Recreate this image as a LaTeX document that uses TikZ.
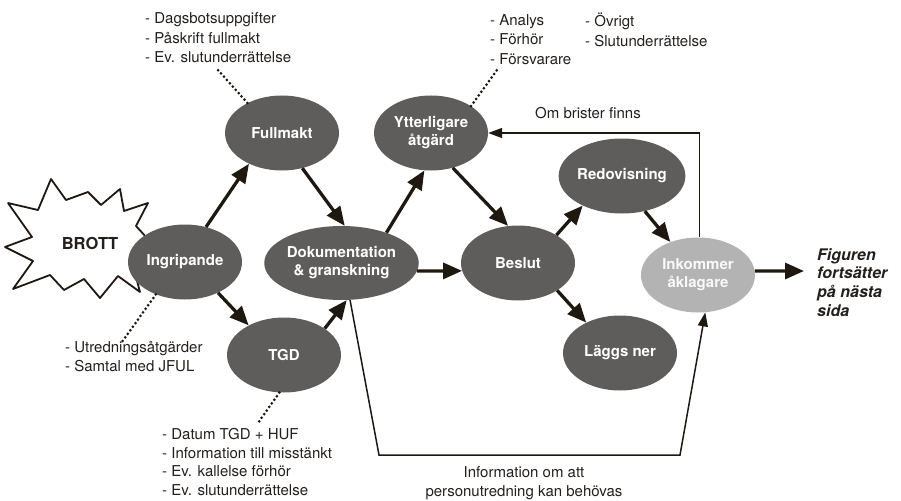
\documentclass[tikz,border=0pt]{standalone}
\usepackage{fontspec}
\setmainfont{TeX Gyre Heros}
\usetikzlibrary{shapes.geometric,arrows.meta}
\definecolor{nodefill}{HTML}{5E5D5B}
\definecolor{lightfill}{HTML}{B3B3B3}
\definecolor{linecol}{HTML}{1F1810}
\definecolor{txt}{HTML}{231F1C}
\begin{document}
\begin{tikzpicture}[x=1pt,y=-1pt,
  proc/.style={ellipse, fill=nodefill, minimum width=114pt, minimum height=75pt,
    inner sep=0pt, text=white, align=center,
    font=\bfseries\fontsize{15}{18}\selectfont},
  lightproc/.style={proc, fill=lightfill, text=white!92!lightfill},
  arr/.style={draw=linecol, line width=3.3pt, -{Triangle[length=19pt,width=16pt]}},
  thinarr/.style={draw=linecol, line width=1.5pt, -{Triangle[length=14pt,width=10pt]}},
  dotline/.style={draw=linecol, line width=3pt, line cap=round, dash pattern=on 0pt off 4.4pt},
  listtext/.style={anchor=north west, inner sep=0pt, align=left, text=txt},
  lbl/.style={inner sep=0pt, align=center, text=txt, font=\fontsize{15}{19}\selectfont}
]
\useasboundingbox (0,0) rectangle (901,500);

% BROTT starburst
\draw[linecol, line width=1.8pt, line join=round, fill=white]
  (51,179) -- (66,200) -- (88,192) -- (101,205) -- (120,189) -- (124,211)
  -- (148,203) -- (136,226) -- (158,250) -- (133,266) -- (140,292) -- (118,276)
  -- (100,298) -- (84,279) -- (64,290) -- (50,275) -- (13,289) -- (33,261)
  -- (5,247) -- (32,237) -- (8,203) -- (38,210) -- cycle;
\node[inner sep=0pt, text=txt, font=\bfseries\fontsize{16.5}{19}\selectfont] (brott) at (90,243) {BROTT};

% process nodes
\node[proc] (ing) at (185,262) {Ingripande};
\node[proc] (full) at (282,133) {Fullmakt};
\node[proc] (tgd) at (284,355) {TGD};
\node[proc, minimum width=153pt, minimum height=74pt] (dok) at (341.5,263) {Dokumentation\\\& granskning};
\node[proc] (ytt) at (431,133) {Ytterligare\\åtgärd};
\node[proc] (bes) at (518,263) {Beslut};
\node[proc] (red) at (622,176) {Redovisning};
\node[lightproc] (ink) at (698,275) {Inkommer\\åklagare};
\node[proc] (lag) at (620,353) {Läggs ner};

% thick arrows
\draw[arr] (ing.59) -- (full.-137);
\draw[arr] (full.-60) -- (dok.85);
\draw[arr] (ing.-43) -- (tgd.140);
\draw[arr] (tgd.33) -- (dok.-82);
\draw[arr] (dok.34) -- (ytt.-100);
\draw[arr] (ytt.-58) -- (bes.105);
\draw[arr] (dok.-6) -- (bes.-172);
\draw[arr] (bes.36) -- (red.-143);
\draw[arr] (bes.-35) -- (lag.138);
\draw[arr] (red.-57) -- (ink.130);
\coordinate (figtip) at (804,271);
\draw[arr] (ink.4) -- (figtip);

% continuation text
\node[anchor=north west, inner sep=0pt, align=left, text=txt,
  font=\bfseries\itshape\fontsize{16}{18.7}\selectfont] (fig) at (817,248)
  {Figuren\\fortsätter\\på nästa\\sida};

% thin feedback arrows
\draw[thinarr] (ink.88) |- (ytt.east);
\node[lbl] (brist) at (588,113) {Om brister finns};

\coordinate (c1) at (379,455);
\coordinate (c2) at (680,455);
\draw[thinarr] (dok.-77) -- (c1) -- (c2) -- (ink.-79);
\node[lbl] (info) at (524,483.5) {Information om att\\personutredning kan behövas};

% dotted leaders and lists
\coordinate (d1) at (218,70);
\draw[dotline] (full.139) -- (d1);
\node[listtext, font=\fontsize{15}{19.5}\selectfont] (l1) at (145,12.5)
  {- Dagsbotsuppgifter\\- Påskrift fullmakt\\- Ev. slutunderrättelse};

\coordinate (d2) at (122,342);
\draw[dotline] (ing.-132) -- (d2);
\node[listtext, font=\fontsize{15}{19}\selectfont] (l2) at (65,341.5)
  {- Utredningsåtgärder\\- Samtal med JFUL};

\coordinate (d3) at (258,423);
\draw[dotline] (tgd.-97) -- (d3);
\node[listtext, font=\fontsize{15}{18.5}\selectfont] (l3) at (162,428.5)
  {- Datum TGD + HUF\\- Information till misstänkt\\- Ev. kallelse förhör\\- Ev. slutunderrättelse};

\coordinate (d4) at (497,70);
\draw[dotline] (ytt.34) -- (d4);
\node[listtext, font=\fontsize{15}{19.3}\selectfont] (l4) at (490,14.5)
  {- Analys\\- Förhör\\- Försvarare};
\node[listtext, font=\fontsize{15}{19.3}\selectfont] (l5) at (585,13)
  {- Övrigt\\- Slutunderrättelse};
\end{tikzpicture}
\end{document}
